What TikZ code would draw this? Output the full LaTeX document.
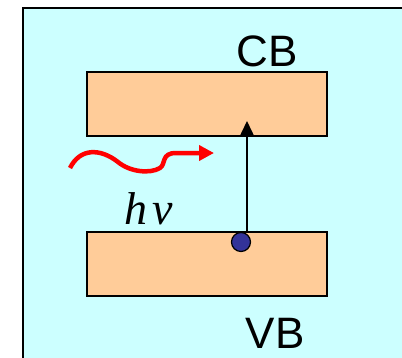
\documentclass[tikz,border=0pt]{standalone}
\usepackage{fontspec}
\setmainfont{Liberation Sans}
\newfontfamily\serifit{Liberation Serif}
\usetikzlibrary{arrows.meta}
\definecolor{bgcyan}{HTML}{CCFFFF}
\definecolor{bandfill}{HTML}{FFCC99}
\definecolor{dotblue}{HTML}{333399}
\tikzset{
  band/.style={draw=black, line width=1.5pt, fill=bandfill, minimum width=240pt, minimum height=64pt, inner sep=0pt},
  lbl/.style={font=\fontsize{44}{44}\selectfont, inner sep=0pt, anchor=base},
}
\begin{document}
\begin{tikzpicture}[x=1pt,y=-1pt]
\useasboundingbox (0,0) rectangle (402,357);
\clip (0,0) rectangle (402,357);
\fill[bgcyan] (23,8) rectangle (420,380);
\draw[line width=2pt] (23,380) -- (23,8) -- (420,8);
\node[band] (cb) at (207,104) {};
\node[band] (vb) at (207,264) {};
\node[lbl] (cbl) at (267,66) {CB};
\node[lbl] (vbl) at (275,348) {VB};
\node[inner sep=0pt, anchor=base west] (hnu) at (124,224) {\serifit\itshape\fontsize{46}{46}\selectfont h\kern5pt ν};
\coordinate (s) at (247,232);
\coordinate (t) at (247,121);
\draw[line width=1.5pt, -{Triangle[length=15pt,width=14pt]}] (s) -- (t);
\node[circle, draw=black, line width=1.2pt, fill=dotblue, minimum size=19pt, inner sep=0pt] (e) at (241,242) {};
\coordinate (w0) at (70,168);
\coordinate (w1) at (214,153);
\draw[red, line width=4.5pt, -{Triangle[length=15pt,width=15pt]}] (w0) .. controls (80,148) and (100,148) .. (118,162) .. controls (130,172) and (150,174) .. (160,168) .. controls (166,164) and (161,153) .. (176,153) -- (w1);
\end{tikzpicture}
\end{document}
